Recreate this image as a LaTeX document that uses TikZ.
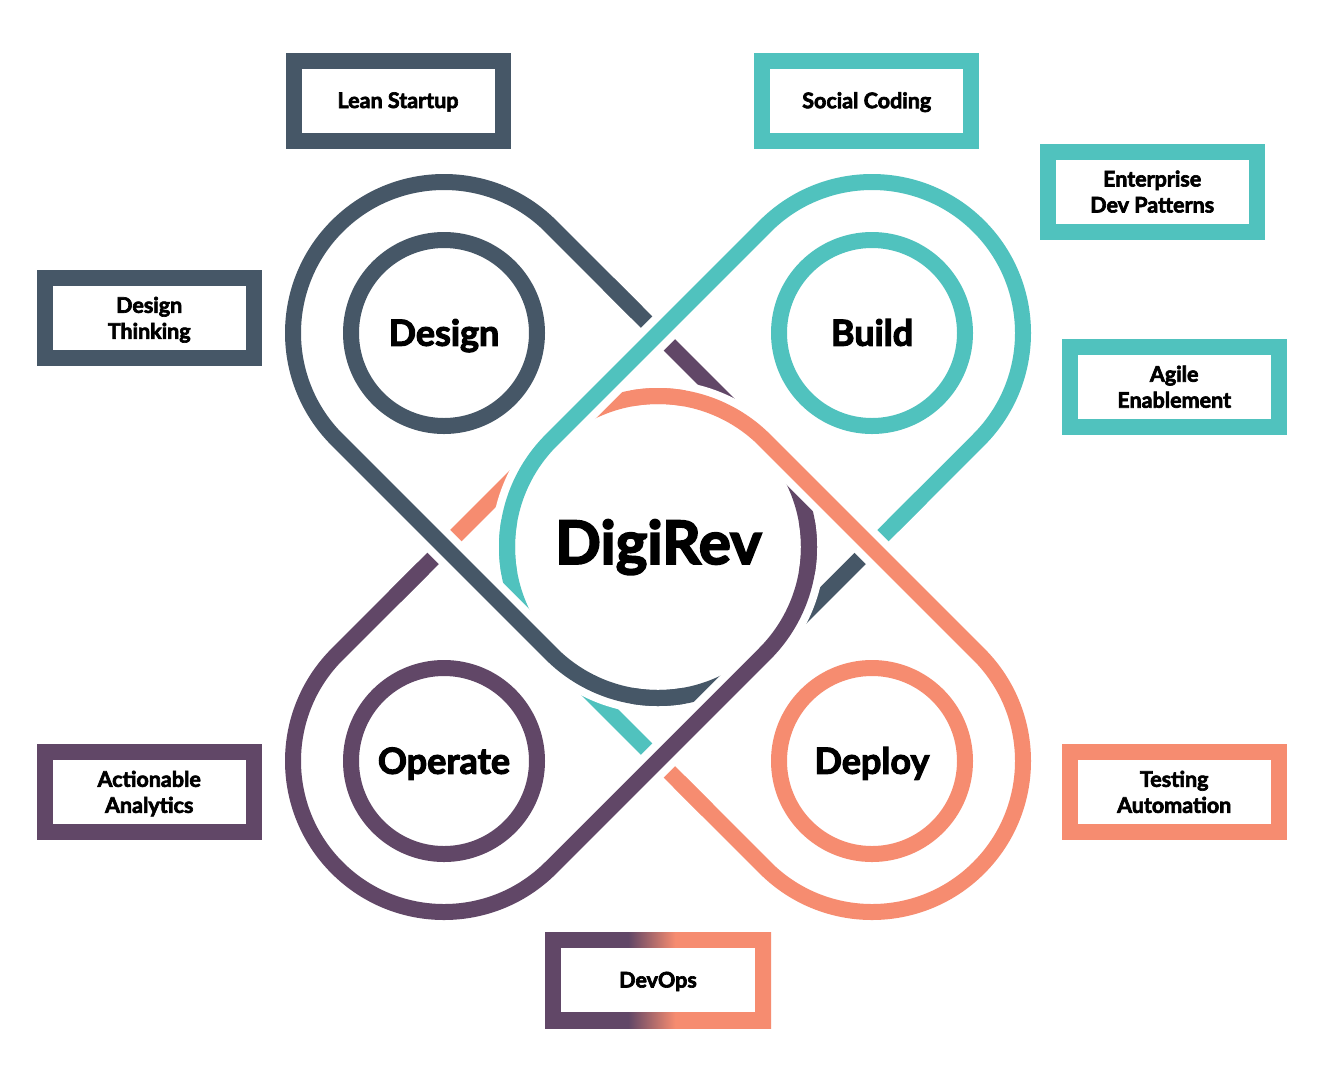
\documentclass[tikz,border=0pt]{standalone}
\usepackage{fontspec}
\setmainfont{Lato}[BoldFeatures={FakeBold=3}]
\usetikzlibrary{calc}
\definecolor{cSlate}{HTML}{465767}
\definecolor{cTeal}{HTML}{50C2BE}
\definecolor{cOrange}{HTML}{F68C70}
\definecolor{cPurple}{HTML}{614767}
\pgfdeclarehorizontalshading{devopsgrad}{100bp}{color(0bp)=(cPurple); color(43.4bp)=(cPurple); color(53.8bp)=(cOrange); color(100bp)=(cOrange)}
\newcommand{\twoline}[2]{\vbox{\halign{\hfil##\hfil\cr #1\cr #2\cr}}}
\begin{document}
\begin{tikzpicture}[x=1pt,y=-1pt,
  strand/.style={line width=16pt, line cap=butt, line join=round},
  overstrand/.style={strand, preaction={draw=white, line width=32pt}},
  ring/.style={circle, draw, line width=16pt, minimum size=186pt, inner sep=0pt,
    font=\bfseries\fontsize{36}{40}\selectfont, text height=25.5pt, text depth=0pt},
  tag/.style={rectangle, draw, line width=16pt, minimum width=209pt, minimum height=80pt,
    inner sep=0pt, font=\bfseries\fontsize{21.5}{26}\selectfont, text height=15pt, text depth=0pt},
  tagtwo/.style={tag, text height=41pt},
  hub/.style={inner sep=0pt, font=\bfseries\fontsize{60}{66}\selectfont, text height=43pt, text depth=0pt}]
\fill[white] (0,0) rectangle (1322,1080);
\useasboundingbox (0,0) rectangle (1322,1080);

% centres
\coordinate (C) at (658,547);
\coordinate (Dd) at (444,333);
\coordinate (Bd) at (872,333);
\coordinate (Od) at (444,761);
\coordinate (Pd) at (872,761);
\coordinate (Ktop) at ($(C)+(270:213.546)$);
\coordinate (Kright) at ($(C)+(0:213.546)$);
\coordinate (Kbot) at ($(C)+(90:213.546)$);
\coordinate (Kleft) at ($(C)+(180:213.546)$);

% under parts: starts and tails
\draw[strand, cSlate] (Ktop) -- ($(Ktop)+(225:50)$);
\draw[strand, cSlate] ($(C)+(90:151)$) arc[start angle=90, end angle=45, radius=151] -- (Kright);
\draw[strand, cTeal] (Kright) -- ($(Kright)+(-45:50)$);
\draw[strand, cTeal] ($(C)+(180:151)$) arc[start angle=180, end angle=135, radius=151] -- (Kbot);
\draw[strand, cOrange] (Kbot) -- ($(Kbot)+(45:50)$);
\draw[strand, cOrange] ($(C)+(-90:151)$) arc[start angle=-90, end angle=-135, radius=151] -- (Kleft);
\draw[strand, cPurple] (Kleft) -- ($(Kleft)+(135:50)$);
\draw[strand, cPurple] ($(C)+(0:151)$) arc[start angle=0, end angle=-45, radius=151] -- (Ktop);

% over parts: bodies
\draw[overstrand, cSlate] ($(Ktop)+(225:50)$) -- ($(Dd)+(-45:151)$)
  arc[start angle=-45, end angle=-225, radius=151] -- ($(C)+(135:151)$)
  arc[start angle=135, end angle=90, radius=151];
\draw[overstrand, cTeal] ($(Kright)+(-45:50)$) -- ($(Bd)+(45:151)$)
  arc[start angle=45, end angle=-135, radius=151] -- ($(C)+(225:151)$)
  arc[start angle=225, end angle=180, radius=151];
\draw[overstrand, cOrange] ($(Kbot)+(45:50)$) -- ($(Pd)+(135:151)$)
  arc[start angle=135, end angle=-45, radius=151] -- ($(C)+(-45:151)$)
  arc[start angle=-45, end angle=-90, radius=151];
\draw[overstrand, cPurple] ($(Kleft)+(135:50)$) -- ($(Od)+(225:151)$)
  arc[start angle=225, end angle=45, radius=151] -- ($(C)+(45:151)$)
  arc[start angle=45, end angle=0, radius=151];

% seam patches where under parts meet bodies
\draw[strand, cSlate] ($(Ktop)+(225:30)$) -- ($(Ktop)+(225:70)$);
\draw[strand, cTeal] ($(Kright)+(-45:30)$) -- ($(Kright)+(-45:70)$);
\draw[strand, cOrange] ($(Kbot)+(45:30)$) -- ($(Kbot)+(45:70)$);
\draw[strand, cPurple] ($(Kleft)+(135:30)$) -- ($(Kleft)+(135:70)$);
\draw[strand, cSlate] ($(C)+(100:151)$) arc[start angle=100, end angle=80, radius=151];
\draw[strand, cTeal] ($(C)+(190:151)$) arc[start angle=190, end angle=170, radius=151];
\draw[strand, cOrange] ($(C)+(-80:151)$) arc[start angle=-80, end angle=-100, radius=151];
\draw[strand, cPurple] ($(C)+(10:151)$) arc[start angle=10, end angle=-10, radius=151];

% petal rings
\node[ring, draw=cSlate] (design) at (Dd) {Design};
\node[ring, draw=cTeal] (build) at (Bd) {Build};
\node[ring, draw=cPurple] (operate) at (Od) {Operate};
\node[ring, draw=cOrange] (deploy) at (Pd) {Deploy};
\node[hub] (digirev) at (658.5,542.5) {DigiRev};

% tag boxes
\node[tag, draw=cSlate] (lean) at (398,100.5) {Lean Startup};
\node[tag, draw=cTeal] (social) at (866.7,100.7) {Social Coding};
\node[tagtwo, draw=cTeal] (enterprise) at (1152.2,192) {\twoline{Enterprise}{Dev Patterns}};
\node[tagtwo, draw=cSlate] (thinking) at (149.2,318.3) {\twoline{Design}{Thinking}};
\node[tagtwo, draw=cTeal] (agile) at (1174.2,387.2) {\twoline{Agile}{Enablement}};
\node[tagtwo, draw=cPurple] (analytics) at (149.2,792.3) {\twoline{Actionable}{Analytics}};
\node[tagtwo, draw=cOrange] (testing) at (1174.2,792.3) {\twoline{Testing}{Automation}};

% DevOps box with gradient frame
\shade[shading=devopsgrad] (545,932) rectangle (771,1028);
\fill[white] (561,948) rectangle (755,1012);
\node[inner sep=0pt, font=\bfseries\fontsize{21.5}{26}\selectfont, text height=15pt, text depth=0pt] (devops) at (658,980) {DevOps};
\end{tikzpicture}
\end{document}
